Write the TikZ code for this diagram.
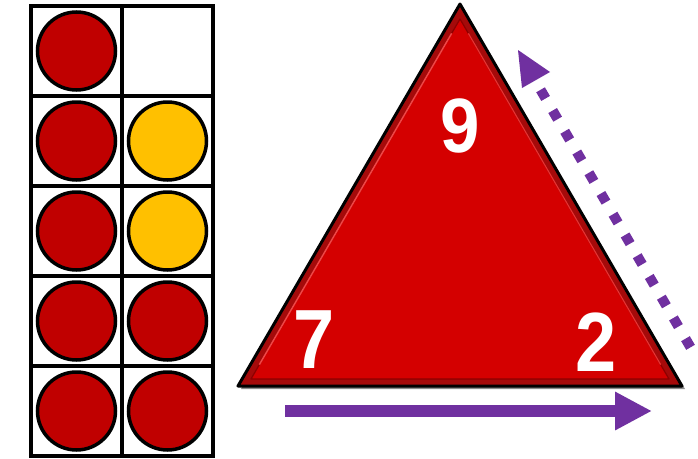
\documentclass[tikz,border=0pt]{standalone}
\usepackage{fontspec}
\setmainfont{Liberation Sans}
\usetikzlibrary{arrows.meta,calc}
\definecolor{tred}{RGB}{212,0,0}
\definecolor{tdark}{RGB}{165,10,10}
\definecolor{thigh}{RGB}{240,70,70}
\definecolor{cred}{RGB}{192,0,0}
\definecolor{cyel}{RGB}{255,192,0}
\definecolor{apurple}{RGB}{112,48,160}
\tikzset{
  cellbox/.style={draw=black, line width=4pt, minimum width=91pt, minimum height=90pt, inner sep=0pt},
  counter/.style={circle, draw=black, line width=3.5pt, minimum size=78pt, inner sep=0pt},
  redc/.style={counter, fill=cred},
  yelc/.style={counter, fill=cyel},
  digit/.style={text=white, inner sep=0pt, font=\bfseries},
  solidarrow/.style={apurple, line width=12pt, -{Triangle[length=37pt,width=36pt]}},
  dotline/.style={apurple, line width=10pt, dash pattern=on 10pt off 14pt}
}
\begin{document}
\begin{tikzpicture}[x=1pt,y=-1pt]
\fill[white] (0,0) rectangle (698,458);
\useasboundingbox (0,0) rectangle (698,458);

% ten frame
\foreach \r/\y in {1/51,2/141,3/231,4/321,5/411}{
  \node[cellbox] (c\r a) at (76.5,\y) {};
  \node[cellbox] (c\r b) at (167.5,\y) {};
}
\node[redc] (k1a) at (c1a) {};
\node[redc] (k2a) at (c2a) {};
\node[yelc] (k2b) at (c2b) {};
\node[redc] (k3a) at (c3a) {};
\node[yelc] (k3b) at (c3b) {};
\node[redc] (k4a) at (c4a) {};
\node[redc] (k4b) at (c4b) {};
\node[redc] (k5a) at (c5a) {};
\node[redc] (k5b) at (c5b) {};

% triangle
\coordinate (A) at (460,4);
\coordinate (L) at (238,386);
\coordinate (R) at (682,386);
\fill[black!45] (462,7) -- (241,389) -- (685,389) -- cycle;
\filldraw[fill=tdark, draw=black, line width=3pt, line join=round] (A) -- (L) -- (R) -- cycle;
\coordinate (Ai) at (460,19);
\coordinate (Li) at (251,379);
\coordinate (Ri) at (669,379);
\filldraw[fill=tred, draw=red!55!black, line width=1.2pt, line join=round] (Ai) -- (Li) -- (Ri) -- cycle;
\draw[thigh, line width=1.5pt] ($(Ai)!0.04!(Li)$) -- ($(Ai)!0.96!(Li)$);
\draw[thigh!70!tred, line width=1.2pt] ($(Ai)!0.04!(Ri)$) -- ($(Ai)!0.96!(Ri)$);

\node[digit, font=\bfseries\fontsize{77}{77}\selectfont, xscale=0.92] (n9) at (460,126) {9};
\node[digit, font=\bfseries\fontsize{84}{84}\selectfont, xscale=0.88] (n7) at (314,340) {7};
\node[digit, font=\bfseries\fontsize{84}{84}\selectfont, xscale=0.88] (n2) at (596,342) {2};

% bottom arrow
\coordinate (b1) at (285,411);
\coordinate (b2) at (652,411);
\draw[solidarrow] (b1) -- (b2);

% dotted arrow
\coordinate (d1) at (688,343);
\coordinate (d2) at (543,94);
\draw[dotline] ($(d1)!-5pt!(d2)$) -- ($(d2)!-5pt!(d1)$);
\coordinate (T) at (518,50);
\coordinate (H1) at (550,72);
\coordinate (H2) at (522,88);
\fill[apurple] (T) -- (H1) -- (H2) -- cycle;
\end{tikzpicture}
\end{document}
